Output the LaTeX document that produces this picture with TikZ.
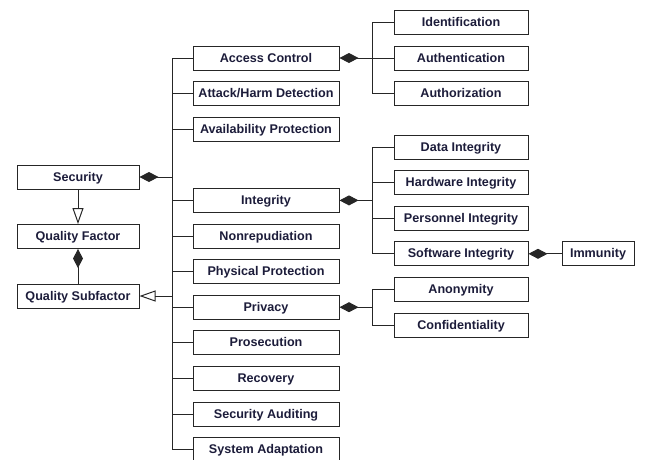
\documentclass[tikz,border=0pt]{standalone}
\usepackage{fontspec}
\setmainfont{Liberation Sans}
\usepackage{tikz}
\usetikzlibrary{arrows.meta}
\definecolor{txtNavy}{HTML}{1C1C3A}
\definecolor{lnGray}{HTML}{262626}

\begin{document}
\begin{tikzpicture}[x=1pt,y=-1pt]
    \tikzstyle{factbox}=[draw=lnGray, line width=1pt, minimum height=24pt, inner sep=0pt,
      text height=10pt, text depth=2pt,
      text=txtNavy, font=\fontsize{12.6}{14}\selectfont\bfseries]
    \tikzstyle{leftbox}=[factbox, minimum width=122pt]
    \tikzstyle{midbox}=[factbox, minimum width=146pt]
    \tikzstyle{rightbox}=[factbox, minimum width=134pt]
    \tikzstyle{link}=[draw=lnGray, line width=1pt]
    \tikzstyle{aggr}=[link, {Diamond[length=19pt,width=10pt]}-]
    \tikzstyle{gen}=[link, -{Triangle[open,length=16pt,width=11pt]}]

    \useasboundingbox (0,0) rectangle (653,459);

    % left column
    \node[leftbox] (sec) at (78,177) {Security};
    \node[leftbox] (qf) at (78,236.5) {Quality Factor};
    \node[leftbox] (qsf) at (78,296) {Quality Subfactor};

    % middle column
    \node[midbox] (ac) at (266,58) {Access Control};
    \node[midbox] (ahd) at (266,93.6) {Attack/Harm Detection};
    \node[midbox] (ap) at (266,129.2) {Availability Protection};
    \node[midbox] (integ) at (266,200.4) {Integrity};
    \node[midbox] (nonrep) at (266,236) {Nonrepudiation};
    \node[midbox] (pp) at (266,271.6) {Physical Protection};
    \node[midbox] (priv) at (266,307.2) {Privacy};
    \node[midbox] (pros) at (266,342.8) {Prosecution};
    \node[midbox] (rec) at (266,378.4) {Recovery};
    \node[midbox] (secaud) at (266,414) {Security Auditing};
    \node[midbox] (sysad) at (266,449.6) {System Adaptation};

    % right column
    \node[rightbox] (ident) at (461,22.4) {Identification};
    \node[rightbox] (authn) at (461,58) {Authentication};
    \node[rightbox] (authz) at (461,93.6) {Authorization};
    \node[rightbox] (dataint) at (461,147) {Data Integrity};
    \node[rightbox] (hwint) at (461,182.6) {Hardware Integrity};
    \node[rightbox] (persint) at (461,218.2) {Personnel Integrity};
    \node[rightbox] (swint) at (461,253.8) {Software Integrity};
    \node[rightbox] (anon) at (461,289.4) {Anonymity};
    \node[rightbox] (conf) at (461,325) {Confidentiality};
    \node[factbox, minimum width=72pt] (imm) at (598,253.8) {Immunity};

    \coordinate (trunk) at (172,0);
    \coordinate (branch) at (372.5,0);

    % security hierarchy
    \draw[gen] (sec.south) -- (qf.north);
    \draw[aggr] (qf.south) -- (qsf.north);
    \draw[gen] (qsf.east -| trunk) -- (qsf.east);
    \draw[aggr] (sec.east) -- (sec.east -| trunk);
    \draw[link] (ac.west) -- (ac.west -| trunk) -- (sysad.west -| trunk) -- (sysad.west);
    \foreach \n in {ahd,ap,integ,nonrep,pp,priv,pros,rec,secaud}
      \draw[link] (\n.west) -- (\n.west -| trunk);

    % access control
    \draw[aggr] (ac.east) -- (ac.east -| branch);
    \draw[link] (ident.west) -| (branch |- authz.west) -- (authz.west);
    \draw[link] (authn.west) -- (authn.west -| branch);

    % integrity
    \draw[aggr] (integ.east) -- (integ.east -| branch);
    \draw[link] (dataint.west) -| (branch |- swint.west) -- (swint.west);
    \foreach \n in {hwint,persint}
      \draw[link] (\n.west) -- (\n.west -| branch);
    \draw[aggr] (swint.east) -- (imm.west);

    % privacy
    \draw[aggr] (priv.east) -- (priv.east -| branch);
    \draw[link] (anon.west) -| (branch |- conf.west) -- (conf.west);
\end{tikzpicture}
\end{document}
